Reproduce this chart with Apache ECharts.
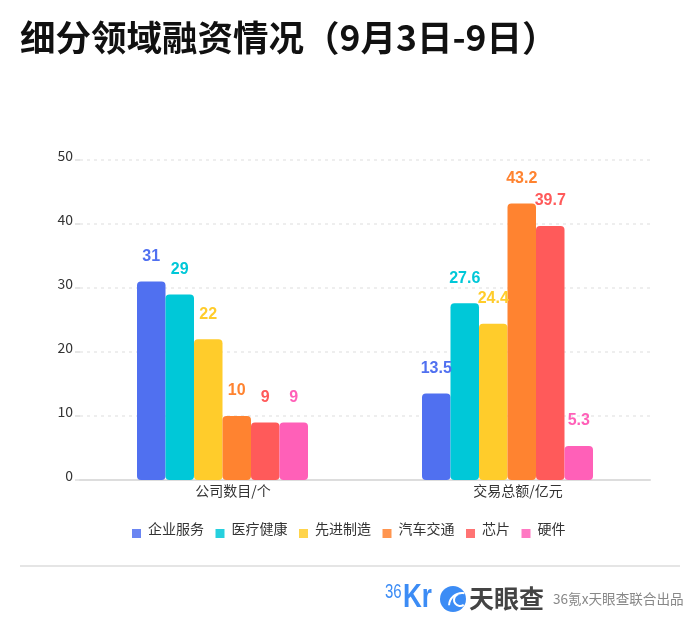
<!DOCTYPE html>
<html>
<head>
<meta charset="utf-8">
<style>
  html, body { margin: 0; padding: 0; background: #fff; }
  #chart { width: 700px; height: 630px; }
</style>
<script src="https://cdn.jsdelivr.net/npm/echarts@6/dist/echarts.min.js"></script>
</head>
<body>
<div id="chart"></div>
<script>
const categories = ['公司数目/个', '交易总额/亿元'];
const qiye = [31, 13.5];
const yiliao = [29, 27.6];
const xianjin = [22, 24.4];
const qiche = [10, 43.2];
const xinpian = [9, 39.7];
const yingjian = [9, 5.3];

const names = ['企业服务', '医疗健康', '先进制造', '汽车交通', '芯片', '硬件'];
const colors = ['#5070F0', '#00C8D8', '#FFCC2B', '#FF8330', '#FF5A5A', '#FF60B8'];
const values = [qiye, yiliao, xianjin, qiche, xinpian, yingjian];

const cjk = '"Noto Sans CJK SC", sans-serif';

const chart = echarts.init(document.getElementById('chart'));

chart.setOption({
  animation: false,
  color: colors,
  title: {
    text: '细分领域融资情况（9月3日-9日）',
    left: 20,
    top: 20,
    padding: 0,
    textStyle: { fontFamily: cjk, fontSize: 35.5, fontWeight: 'bold', color: '#111' }
  },
  legend: {
    left: 132,
    top: 520,
    padding: 0,
    // square sits low in a taller item so the text rides above it
    icon: 'path://M0,0M0,9h9v9h-9z',
    itemWidth: 9,
    itemHeight: 18,
    itemGap: 11.5,
    data: names,
    itemStyle: { opacity: 0.85 },
    textStyle: { fontFamily: cjk, fontSize: 14, color: '#333', padding: [0, 0, 0, 2] }
  },
  grid: { left: 80, right: 50, top: 160, bottom: 150 },
  xAxis: {
    type: 'category',
    data: categories,
    axisLine: { lineStyle: { color: '#ddd', width: 2 } },
    axisTick: { alignWithLabel: true, length: 5, lineStyle: { color: '#ccc' } },
    axisLabel: { fontFamily: cjk, fontSize: 14, color: '#333', margin: 4, padding: [0, 0, 0, 21] }
  },
  yAxis: {
    type: 'value',
    min: 0,
    max: 50,
    interval: 10,
    axisLine: { show: false },
    axisTick: { show: true, length: 5, lineStyle: { color: '#ddd', width: 1.5 } },
    axisLabel: { fontFamily: cjk, fontSize: 14, color: '#333', margin: 7, verticalAlign: 'bottom', lineHeight: 8 },
    splitLine: { lineStyle: { color: '#eee', type: [3, 4], width: 2 } }
  },
  series: names.map((name, i) => ({
    name: name,
    type: 'bar',
    data: values[i],
    barWidth: 28.5,
    barGap: 0,
    itemStyle: { color: colors[i], borderRadius: 4 },
    label: {
      show: true,
      position: 'top',
      distance: 17,
      fontFamily: '"Liberation Sans", sans-serif',
      fontSize: 16,
      fontWeight: 'bold',
      color: colors[i]
    }
  })),
  graphic: [
    { type: 'line', shape: { x1: 20, y1: 566, x2: 680, y2: 566 }, style: { stroke: '#ddd', lineWidth: 1.5 } },
    { type: 'text', x: 385, y: 583, scaleY: 1.3, style: { text: '36', fontFamily: '"Liberation Sans", sans-serif', fontSize: 15, fill: '#3C8CF5' } },
    { type: 'text', x: 403, y: 582, scaleY: 1.25, style: { text: 'Kr', fontFamily: '"Liberation Sans", sans-serif', fontWeight: 'bold', fontSize: 26, fill: '#3C8CF5' } },
    { type: 'circle', shape: { cx: 453, cy: 599, r: 13 }, style: { fill: '#3C8CF5' } },
    { type: 'arc', shape: { cx: 462, cy: 606, r: 13, startAngle: 3.2, endAngle: 4.9 }, style: { stroke: '#fff', lineWidth: 2, fill: null } },
    { type: 'arc', shape: { cx: 460, cy: 600, r: 6, startAngle: 0.9, endAngle: 4.4 }, style: { stroke: '#fff', lineWidth: 2, fill: null } },
    { type: 'text', x: 469, y: 586, style: { text: '天眼查', fontFamily: cjk, fontWeight: 'bold', fontSize: 25, fill: '#444' } },
    { type: 'text', x: 553, y: 592, style: { text: '36氪x天眼查联合出品', fontFamily: cjk, fontSize: 13.6, fill: '#888' } }
  ]
});
</script>
</body>
</html>
